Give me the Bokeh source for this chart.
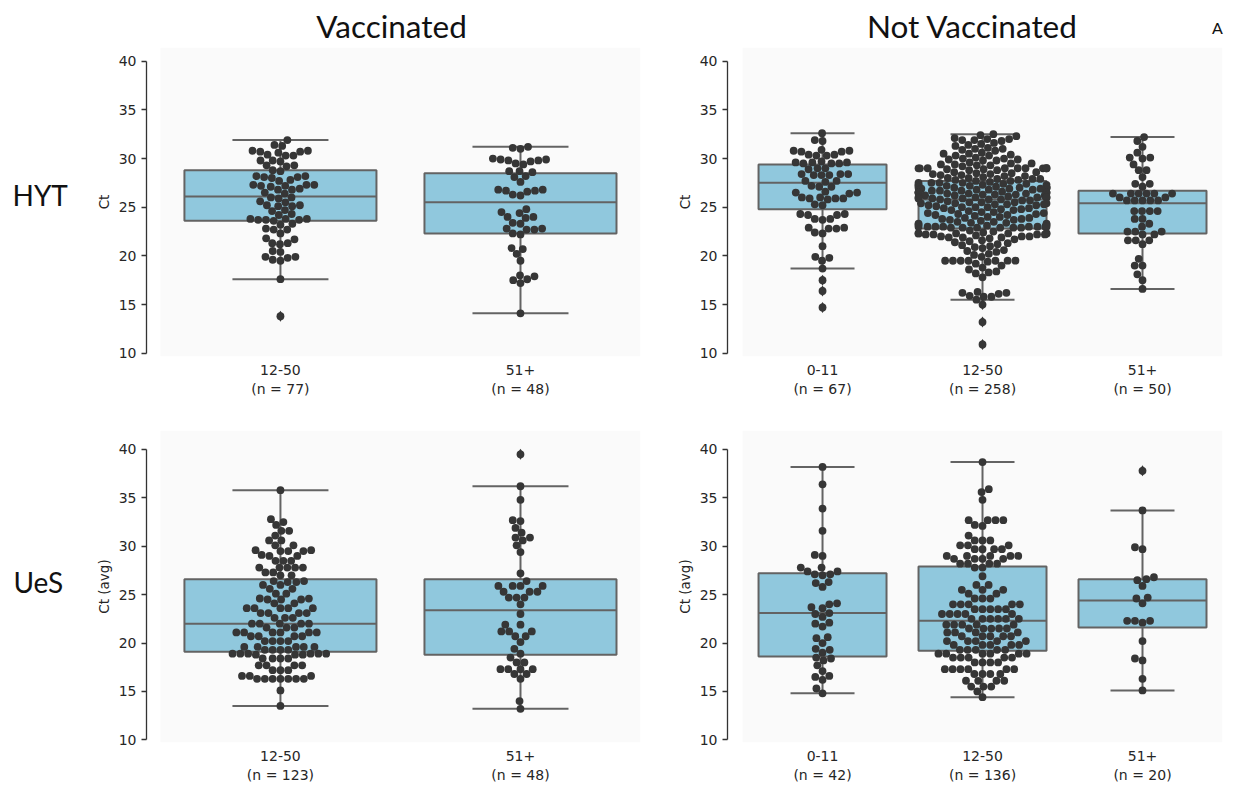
import math
from bokeh.plotting import figure
from bokeh.models import Range1d, FixedTicker, BoxAnnotation, ColumnDataSource
from bokeh.core.properties import value
from bokeh.layouts import column, row
from bokeh.embed import file_html
from bokeh.resources import INLINE

# ---------------- data ----------------
col_titles = ["Vaccinated", "Not Vaccinated"]
row_titles = ["HYT", "UeS"]
panel_tag = "A"

# HYT, vaccinated
hyt_vac_cats = ["12-50", "51+"]
hyt_vac_n = [77, 48]
hyt_vac_q1 = [23.6, 22.3]
hyt_vac_med = [26.1, 25.5]
hyt_vac_q3 = [28.8, 28.5]
hyt_vac_wlo = [17.6, 14.1]
hyt_vac_whi = [31.9, 31.2]
hyt_vac_1250 = [31.9, 31.4, 31.3, 30.8, 30.8, 30.7, 30.7, 30.6, 30.4, 30.3, 30.3, 29.8, 29.8, 29.7,
                29.3, 29.3, 29.2, 28.8, 28.7, 28.2, 28.2, 28.1, 28.1, 28.0, 27.8, 27.7, 27.3, 27.3,
                27.3, 27.2, 27.2, 27.1, 26.9, 26.8, 26.8, 26.5, 26.4, 26.0, 26.0, 25.9, 25.6, 25.5,
                25.2, 25.2, 25.1, 25.1, 24.7, 24.6, 24.3, 24.2, 23.8, 23.8, 23.8, 23.7, 23.7, 23.7,
                23.6, 23.3, 23.2, 22.8, 22.7, 22.7, 22.3, 21.8, 21.7, 21.3, 21.3, 21.2, 20.5, 20.4,
                19.9, 19.9, 19.8, 19.6, 19.5, 17.6, 13.8]
hyt_vac_51 = [31.2, 31.1, 31.0, 30.0, 29.9, 29.9, 29.8, 29.8, 29.7, 29.5, 29.4, 28.7, 28.7, 28.6,
              28.2, 28.1, 27.6, 26.8, 26.8, 26.7, 26.7, 26.6, 26.3, 26.2, 24.8, 24.5, 24.4, 24.0,
              24.0, 23.9, 23.4, 23.3, 22.8, 22.8, 22.7, 22.7, 22.3, 22.2, 20.8, 20.7, 20.2, 19.5,
              18.0, 17.9, 17.6, 17.5, 17.2, 14.1]

# HYT, not vaccinated
hyt_nv_cats = ["0-11", "12-50", "51+"]
hyt_nv_n = [67, 258, 50]
hyt_nv_q1 = [24.8, 22.8, 22.3]
hyt_nv_med = [27.5, 25.8, 25.4]
hyt_nv_q3 = [29.4, 27.7, 26.7]
hyt_nv_wlo = [18.7, 15.5, 16.6]
hyt_nv_whi = [32.6, 32.5, 32.2]
hyt_nv_011 = [32.6, 31.9, 31.8, 30.9, 30.8, 30.8, 30.7, 30.7, 30.4, 30.4, 30.3, 30.3, 29.7, 29.6,
              29.6, 29.6, 29.5, 29.5, 29.5, 29.0, 29.0, 28.9, 28.4, 28.4, 28.4, 28.3, 28.3, 28.3,
              27.7, 27.7, 27.6, 27.2, 27.1, 27.1, 26.6, 26.5, 26.5, 26.4, 26.0, 26.0, 25.9, 25.9,
              25.9, 25.8, 25.3, 25.2, 24.3, 24.3, 24.2, 24.2, 23.8, 23.8, 23.7, 22.9, 22.9, 22.8,
              22.8, 22.4, 22.3, 21.0, 19.9, 19.8, 19.5, 18.7, 17.5, 16.4, 14.7]
hyt_nv_1250 = [32.5, 32.4, 32.3,
               32.1, 32.0, 32.0, 31.9, 31.9, 31.8,
               31.6, 31.5, 31.4, 31.3,
               31.1, 31.0, 31.0, 30.9, 30.8,
               30.6, 30.5, 30.5, 30.4, 30.3, 30.3,
               30.1, 30.0, 30.0, 29.9, 29.9, 29.8, 29.8,
               29.6, 29.5, 29.5, 29.4, 29.4, 29.3, 29.3, 29.2,
               29.0, 29.0, 29.0, 29.0, 29.0, 29.0, 29.0, 29.0, 29.0, 28.9, 28.9, 28.8, 28.8,
               28.6, 28.6, 28.5, 28.5, 28.4, 28.4, 28.3, 28.3, 28.2, 28.2,
               28.1, 28.0, 28.0, 27.9, 27.9, 27.9, 27.8, 27.8, 27.7, 27.7,
               27.6, 27.5, 27.5, 27.5, 27.5, 27.4, 27.4, 27.3, 27.3, 27.3, 27.2, 27.2, 27.2, 27.1,
               27.0, 27.0, 27.0, 27.0, 27.0, 27.0, 26.9, 26.9, 26.9, 26.8, 26.8, 26.8, 26.7, 26.7, 26.7,
               26.6, 26.5, 26.5, 26.5, 26.5, 26.5, 26.4, 26.4, 26.4, 26.3, 26.3, 26.3, 26.2, 26.2, 26.2,
               26.1, 26.0, 26.0, 26.0, 26.0, 26.0, 25.9, 25.9, 25.9, 25.8, 25.8, 25.8, 25.7, 25.7,
               25.6, 25.5, 25.5, 25.5, 25.4, 25.4, 25.4, 25.3, 25.3, 25.3, 25.2, 25.2,
               25.1, 25.0, 25.0, 25.0, 24.9, 24.9, 24.8, 24.8, 24.7, 24.7,
               24.6, 24.5, 24.5, 24.4, 24.4, 24.3, 24.3, 24.2, 24.2,
               24.1, 24.0, 24.0, 23.9, 23.9, 23.8, 23.8, 23.7, 23.7,
               23.6, 23.5, 23.5, 23.4, 23.4, 23.3, 23.3, 23.2, 23.2,
               23.1, 23.0, 23.0, 23.0, 23.0, 23.0, 23.0, 23.0, 23.0, 22.9, 22.9, 22.9, 22.9, 22.9, 22.9,
               22.6, 22.5, 22.4, 22.3, 22.3, 22.3, 22.3, 22.3, 22.3, 22.2, 22.2, 22.2, 22.2,
               22.1, 22.0, 22.0, 22.0, 21.9, 21.9, 21.9, 21.8,
               21.7, 21.6, 21.5, 21.4, 21.3,
               21.2, 21.1, 21.0, 20.9,
               20.8, 20.6, 20.5, 20.4,
               20.2, 20.1, 19.9,
               19.5, 19.5, 19.5, 19.5, 19.5, 19.5, 19.5, 19.4,
               19.2, 19.0, 18.8,
               18.6, 18.4,
               18.3, 18.2, 17.8, 16.3, 16.2, 16.2, 16.1, 15.9, 15.8, 15.8, 15.5, 15.0, 13.2, 10.9]
hyt_nv_51 = [32.2, 31.8, 31.2, 30.6, 30.1, 30.1, 30.0, 29.4, 28.8, 28.8, 28.1, 27.4, 27.4, 27.1,
             26.4, 26.4, 26.4, 26.4, 26.4, 26.4, 26.0, 26.0, 25.7, 25.7, 25.7, 25.7, 25.7, 24.6,
             24.6, 24.6, 24.6, 23.8, 23.8, 23.3, 23.0, 22.5, 22.5, 22.5, 22.2, 22.2, 21.6, 21.6,
             21.6, 21.2, 19.7, 19.0, 19.0, 18.1, 17.5, 16.6]

# UeS, vaccinated
ues_vac_cats = ["12-50", "51+"]
ues_vac_n = [123, 48]
ues_vac_q1 = [19.1, 18.8]
ues_vac_med = [22.0, 23.4]
ues_vac_q3 = [26.6, 26.6]
ues_vac_wlo = [13.5, 13.2]
ues_vac_whi = [35.8, 36.2]
ues_vac_1250 = [35.8, 32.8, 32.5, 32.2, 31.6, 31.6, 31.1, 30.6, 30.6, 30.1, 30.1, 29.6, 29.6, 29.5,
                29.5, 29.5, 29.1, 29.0, 29.0, 28.5, 28.5, 28.5, 27.8, 27.8, 27.8, 27.8, 27.8, 27.3,
                27.3, 27.0, 27.0, 26.4, 26.4, 26.3, 26.3, 26.0, 26.0, 25.6, 25.6, 25.1, 25.1, 24.6,
                24.6, 24.5, 24.5, 24.5, 24.1, 24.1, 23.6, 23.6, 23.6, 23.6, 23.6, 23.1, 23.1, 23.1,
                23.1, 22.6, 22.6, 22.6, 22.0, 22.0, 22.0, 22.0, 22.0, 21.6, 21.6, 21.6, 21.1, 21.1,
                21.1, 21.1, 21.1, 21.1, 20.7, 20.7, 20.7, 20.7, 20.2, 20.2, 20.2, 20.2, 19.6, 19.6,
                19.6, 19.6, 19.6, 19.3, 19.3, 19.3, 19.3, 18.9, 18.9, 18.9, 18.9, 18.9, 18.9, 18.8,
                18.8, 18.8, 18.4, 18.4, 18.4, 18.4, 17.7, 17.7, 17.7, 17.7, 17.2, 17.2, 17.2, 16.6,
                16.6, 16.6, 16.3, 16.3, 16.3, 16.3, 16.3, 16.3, 16.3, 15.1, 13.5]
ues_vac_51 = [39.5, 36.2, 34.8, 32.7, 32.6, 31.9, 31.4, 30.9, 30.9, 30.6, 30.1, 29.4, 27.2, 26.4,
              25.9, 25.9, 25.9, 25.9, 25.3, 25.3, 25.3, 24.7, 24.7, 24.7, 24.0, 23.0, 21.9, 21.9,
              21.2, 21.2, 21.2, 20.7, 20.7, 20.1, 19.4, 18.9, 18.5, 18.0, 18.0, 17.3, 17.3, 17.3,
              17.3, 16.8, 16.8, 16.3, 14.0, 13.2]

# UeS, not vaccinated
ues_nv_cats = ["0-11", "12-50", "51+"]
ues_nv_n = [42, 136, 20]
ues_nv_q1 = [18.6, 19.2, 21.6]
ues_nv_med = [23.1, 22.3, 24.4]
ues_nv_q3 = [27.2, 27.9, 26.6]
ues_nv_wlo = [14.8, 14.4, 15.1]
ues_nv_whi = [38.2, 38.7, 33.7]
ues_nv_011 = [38.2, 36.4, 33.9, 31.6, 29.1, 29.0, 27.8, 27.8, 27.4, 27.4, 27.1, 27.1, 27.0, 26.3,
              26.2, 25.8, 24.1, 24.0, 23.7, 23.6, 23.1, 23.0, 22.7, 22.1, 22.0, 21.7, 20.6, 20.5,
              20.0, 19.4, 19.3, 19.0, 18.5, 18.4, 18.2, 17.7, 17.1, 16.6, 16.5, 16.2, 15.3, 14.8]
ues_nv_1250 = [38.7, 35.9, 35.6, 34.8, 32.7, 32.7, 32.7, 32.7, 32.2, 32.1, 31.1, 30.6, 30.6, 30.6,
               30.1, 30.1, 30.1, 29.7, 29.7, 29.7, 29.7, 29.0, 29.0, 29.0, 29.0, 29.0, 28.7, 28.7,
               28.7, 28.7, 28.2, 28.2, 28.2, 28.2, 27.8, 27.8, 26.9, 26.0, 26.0, 25.5, 25.5, 25.5,
               25.1, 25.1, 24.6, 24.6, 24.6, 24.0, 24.0, 24.0, 24.0, 24.0, 23.5, 23.5, 23.5, 23.5,
               23.5, 23.0, 23.0, 23.0, 23.0, 23.0, 22.5, 22.5, 22.5, 22.5, 22.5, 22.5, 21.9, 21.9,
               21.9, 21.9, 21.9, 21.5, 21.5, 21.5, 21.5, 21.5, 21.1, 21.1, 21.1, 21.1, 20.7, 20.7,
               20.7, 20.7, 20.7, 20.2, 20.2, 20.2, 20.2, 20.2, 19.8, 19.8, 19.8, 19.8, 19.8, 19.3,
               19.3, 19.3, 19.3, 19.3, 18.9, 18.9, 18.9, 18.9, 18.9, 18.9, 18.5, 18.5, 18.5, 18.5,
               18.5, 18.0, 18.0, 18.0, 18.0, 17.3, 17.3, 17.3, 17.3, 17.3, 17.3, 16.8, 16.8, 16.8,
               16.8, 16.1, 16.1, 16.1, 16.1, 15.5, 15.5, 15.5, 15.0, 14.4]
ues_nv_51 = [37.8, 33.7, 29.9, 29.7, 26.8, 26.6, 26.5, 25.9, 24.7, 24.6, 24.1, 22.3, 22.3, 22.3,
             22.1, 20.2, 18.4, 18.2, 16.3, 15.1]

# ---------------- style ----------------
BOX_FILL = "#90c8dd"
BOX_LINE = "#636363"
DOT = "#363636"
AXIS = "#333333"
TXT = "#262626"
HEAD = "#111111"
DOT_D = 7.8
TICK_FS = "14px"


def swarm_offsets(vals, xpx, ypx, d, half):
    ys = [v * ypx for v in vals]
    order = sorted(range(len(vals)), key=lambda i: ys[i])
    placed = []
    offs = [0.0] * len(vals)
    for i in order:
        y = ys[i]
        nb = [(px, py) for (px, py) in placed if abs(py - y) < d]
        cands = [0.0]
        for px, py in nb:
            dx = math.sqrt(max(d * d - (py - y) ** 2, 0.0))
            cands.append(px - dx)
            cands.append(px + dx)
        cands.sort(key=abs)
        x = cands[-1]
        for c in cands:
            ok = True
            for px, py in nb:
                if (c - px) ** 2 + (y - py) ** 2 < d * d - 1e-6:
                    ok = False
                    break
            if ok:
                x = c
                break
        placed.append((x, y))
        offs[i] = x
    return [max(-half, min(half, o / xpx)) for o in offs]


def blank(width, height, y_top, y_bot):
    p = figure(width=width, height=height, output_backend="svg", toolbar_location=None,
               x_range=Range1d(0, width), y_range=Range1d(y_bot, y_top),
               x_axis_location=None, y_axis_location=None, min_border=0)
    p.outline_line_color = None
    p.grid.visible = False
    p.background_fill_color = "white"
    p.border_fill_color = "white"
    return p


def panel(cats, ns, groups, q1, med, q3, wlo, whi, ylabel, width, height,
          mbl, mbr, mbt, mbb, xstart, ystart, yend, xpx, ypx):
    k = len(cats)
    p = figure(width=width, height=height, output_backend="svg", toolbar_location=None,
               x_range=Range1d(xstart, k - 0.5), y_range=Range1d(ystart, yend),
               min_border_left=mbl, min_border_right=mbr, min_border_top=mbt,
               min_border_bottom=mbb)
    p.outline_line_color = None
    p.grid.visible = False
    p.background_fill_color = "white"
    p.border_fill_color = "white"

    p.add_layout(BoxAnnotation(left=-0.5, right=k - 0.5, fill_color="#fafafa",
                               fill_alpha=1.0, line_color=None, level="underlay"))

    pos = list(range(k))
    src = ColumnDataSource(dict(
        x=pos, left=[c - 0.4 for c in pos], right=[c + 0.4 for c in pos],
        cl=[c - 0.2 for c in pos], cr=[c + 0.2 for c in pos],
        q1=q1, med=med, q3=q3, wlo=wlo, whi=whi))
    p.segment(x0="x", y0="q3", x1="x", y1="whi", source=src, line_color=BOX_LINE, line_width=2)
    p.segment(x0="x", y0="q1", x1="x", y1="wlo", source=src, line_color=BOX_LINE, line_width=2)
    p.quad(left="left", right="right", bottom="q1", top="q3", source=src,
           fill_color=BOX_FILL, line_color=BOX_LINE, line_width=2)
    p.segment(x0="left", y0="med", x1="right", y1="med", source=src, line_color=BOX_LINE, line_width=2)
    p.segment(x0="cl", y0="whi", x1="cr", y1="whi", source=src, line_color=BOX_LINE, line_width=2)
    p.segment(x0="cl", y0="wlo", x1="cr", y1="wlo", source=src, line_color=BOX_LINE, line_width=2)

    xs, ys, fx, fy = [], [], [], []
    for ci, vals in enumerate(groups):
        offs = swarm_offsets(vals, xpx, ypx, DOT_D, 0.4)
        for v, o in zip(vals, offs):
            xs.append(ci + o)
            ys.append(v)
            if v < wlo[ci] - 1e-9 or v > whi[ci] + 1e-9:
                fx.append(ci + o)
                fy.append(v)
    p.scatter(x=xs, y=ys, size=DOT_D, fill_color=DOT, line_color=None)
    if fx:
        p.scatter(x=fx, y=fy, marker="diamond", size=11, fill_color=DOT, line_color=None)

    yax = p.yaxis[0]
    yax.ticker = FixedTicker(ticks=[10, 15, 20, 25, 30, 35, 40])
    yax.bounds = (10, 40)
    yax.axis_line_color = AXIS
    yax.axis_line_width = 1.3
    yax.major_tick_line_color = AXIS
    yax.major_tick_line_width = 1.3
    yax.major_tick_out = 5
    yax.major_tick_in = 0
    yax.minor_tick_line_color = None
    yax.major_label_standoff = 5
    yax.major_label_text_font = "DejaVu Sans"
    yax.major_label_text_font_size = TICK_FS
    yax.major_label_text_color = TXT
    yax.axis_label = ylabel
    yax.axis_label_text_font = "DejaVu Sans"
    yax.axis_label_text_font_size = "13.5px"
    yax.axis_label_text_font_style = "normal"
    yax.axis_label_text_color = TXT
    yax.axis_label_standoff = 4

    xax = p.xaxis[0]
    xax.ticker = FixedTicker(ticks=pos)
    xax.major_label_overrides = {i: f"{c}\n(n = {n})" for i, (c, n) in enumerate(zip(cats, ns))}
    xax.axis_line_color = None
    xax.major_tick_line_color = None
    xax.minor_tick_line_color = None
    xax.major_tick_out = 0
    xax.major_tick_in = 0
    xax.major_label_standoff = 5
    xax.major_label_text_font = "DejaVu Sans"
    xax.major_label_text_font_size = TICK_FS
    xax.major_label_text_color = TXT
    return p


# geometry (pixels, page coordinates)
HEAD_H = 47
TOP_H, BOT_H = 363, 380
LAB_W, L_W, R_W = 90, 558, 585

header = blank(LAB_W + L_W + R_W, HEAD_H, 0, HEAD_H)
header.text(x=[391, 972], y=[25, 25], text=col_titles, text_font=value("Lato"),
            text_font_size="31.5px", text_color=HEAD, text_align="center", text_baseline="middle")
header.text(x=[1217], y=[27], text=[panel_tag], text_font=value("Lato"),
            text_font_size="16px", text_color=HEAD, text_align="center", text_baseline="middle")

lab_top = blank(LAB_W, TOP_H, HEAD_H, HEAD_H + TOP_H)
lab_top.text(x=[12], y=[220], text=[row_titles[0]], text_font=value("Lato"),
             text_font_size="28px", text_color=HEAD, text_align="left", text_baseline="middle")
lab_bot = blank(LAB_W, BOT_H, HEAD_H + TOP_H, HEAD_H + TOP_H + BOT_H)
lab_bot.text(x=[13], y=[595], text=[row_titles[1]], text_font=value("Lato"),
             text_font_size="28px", text_color=HEAD, text_align="left", text_baseline="middle")

p1 = panel(hyt_vac_cats, hyt_vac_n, [hyt_vac_1250, hyt_vac_51], hyt_vac_q1, hyt_vac_med,
           hyt_vac_q3, hyt_vac_wlo, hyt_vac_whi, "Ct", L_W, TOP_H, 56, 8, 0, 54,
           -0.558, 9.661, 41.408, 240.0, 9.733)
p2 = panel(hyt_nv_cats, hyt_nv_n, [hyt_nv_011, hyt_nv_1250, hyt_nv_51], hyt_nv_q1, hyt_nv_med,
           hyt_nv_q3, hyt_nv_wlo, hyt_nv_whi, "Ct", R_W, TOP_H, 79, 11, 0, 54,
           -0.594, 9.661, 41.408, 160.0, 9.733)
p3 = panel(ues_vac_cats, ues_vac_n, [ues_vac_1250, ues_vac_51], ues_vac_q1, ues_vac_med,
           ues_vac_q3, ues_vac_wlo, ues_vac_whi, "Ct (avg)", L_W, BOT_H, 56, 8, 20, 48,
           -0.558, 9.721, 41.963, 240.0, 9.677)
p4 = panel(ues_nv_cats, ues_nv_n, [ues_nv_011, ues_nv_1250, ues_nv_51], ues_nv_q1, ues_nv_med,
           ues_nv_q3, ues_nv_wlo, ues_nv_whi, "Ct (avg)", R_W, BOT_H, 79, 11, 20, 48,
           -0.594, 9.721, 41.963, 160.0, 9.677)

layout = column(header, row(lab_top, p1, p2), row(lab_bot, p3, p4))
open("out.html", "w").write(file_html(layout, INLINE))
